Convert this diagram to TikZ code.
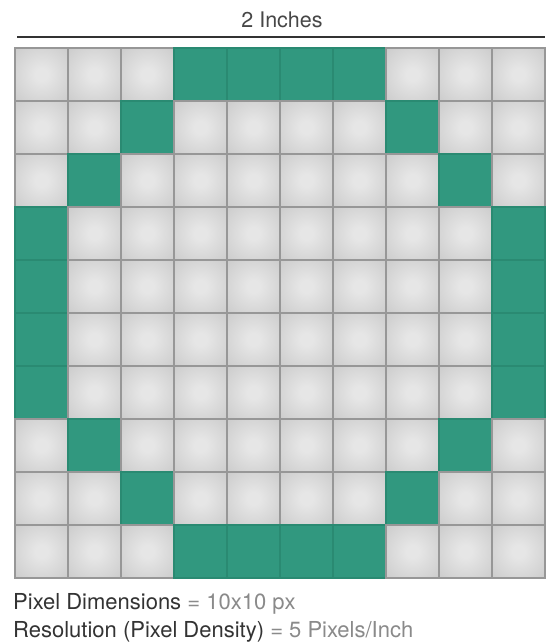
\documentclass[tikz,border=0pt]{standalone}
\usepackage{fontspec}
\setmainfont{TeX Gyre Heros}
\definecolor{cellin}{HTML}{E6E6E6}
\definecolor{cellout}{HTML}{BDBDBD}
\definecolor{gridc}{HTML}{979797}
\definecolor{tealc}{HTML}{31987F}
\definecolor{tealline}{HTML}{2A8A72}
\definecolor{txtdark}{HTML}{333333}
\definecolor{txtlight}{HTML}{8A8A8A}
\pgfdeclareradialshading{cellshade}{\pgfpoint{0bp}{0bp}}{color(0bp)=(cellin); color(6bp)=(cellin); color(52bp)=(cellout); color(100bp)=(cellout)}
\tikzset{
  cellbox/.style={minimum width=53pt, minimum height=53pt, inner sep=0pt, outer sep=0pt, anchor=north west, line width=1.1pt},
  greycell/.style={cellbox, shading=cellshade, draw=gridc},
  tealcell/.style={cellbox, fill=tealc, draw=tealline},
  label/.style={inner sep=0pt, anchor=base west, font=\fontsize{22}{26}\selectfont}
}
\begin{document}
\begin{tikzpicture}[x=1pt,y=-1pt]
\useasboundingbox[fill=white] (0,0) rectangle (546,642);
\node[inner sep=0pt, text=txtdark!90, font=\fontsize{21.5}{25}\selectfont] (title) at (282,20) {2 Inches};
\coordinate (la) at (17,37);
\coordinate (lb) at (545,37);
\draw[txtdark, line width=1.3pt] (la) -- (lb);
\foreach \r in {0,...,9}{
  \foreach \c in {0,...,9}{
    \pgfmathtruncatemacro{\isteal}{
      (\r==0 && \c>=3 && \c<=6) || (\r==9 && \c>=3 && \c<=6) ||
      ((\r==1 || \r==8) && (\c==2 || \c==7)) ||
      ((\r==2 || \r==7) && (\c==1 || \c==8)) ||
      ((\r>=3 && \r<=6) && (\c==0 || \c==9)) ? 1 : 0}
    \ifnum\isteal=1
      \node[tealcell] (c-\r-\c) at (15+53*\c, 48+53*\r) {};
    \else
      \node[greycell] (c-\r-\c) at (15+53*\c, 48+53*\r) {};
    \fi
  }
}
\node[label, text=txtdark] (l1) at (13,609) {Pixel Dimensions \textcolor{txtlight}{= 10x10 px}};
\node[label, text=txtdark] (l2) at (13,637) {Resolution (Pixel Density) \textcolor{txtlight}{= 5 Pixels/Inch}};
\end{tikzpicture}
\end{document}
